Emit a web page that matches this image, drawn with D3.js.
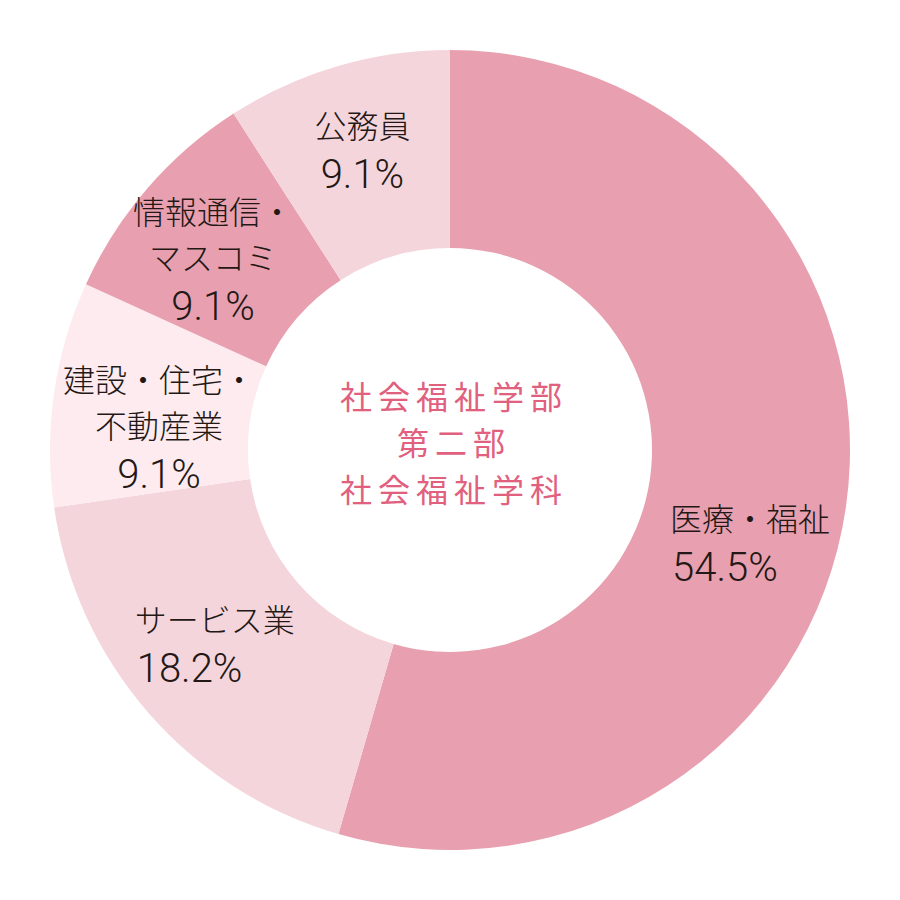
<!DOCTYPE html>
<html>
<head>
<meta charset="utf-8">
<script src="https://cdn.jsdelivr.net/npm/d3@7"></script>
<style>
  html, body { margin: 0; padding: 0; background: #fff; }
  svg text { font-family: "Noto Sans CJK JP", "Noto Sans", sans-serif; font-weight: 300; }
</style>
</head>
<body>
<script>
// data
var categories = ["医療・福祉", "サービス業", "建設・住宅・不動産業", "情報通信・マスコミ", "公務員"];
var labelLines = [["医療・福祉"], ["サービス業"], ["建設・住宅・", "不動産業"], ["情報通信・", "マスコミ"], ["公務員"]];
var values = [54.5, 18.2, 9.1, 9.1, 9.1];
var centerTitle = ["社会福祉学部", "第二部", "社会福祉学科"];

var colors = ["#e8a0b0", "#f5d5dc", "#fdebef", "#e8a0b0", "#f5d5dc"];

var width = 900, height = 900,
    cx = 450, cy = 450,
    outerR = 400, innerR = 202, labelR = 300;

var data = categories.map((c, i) => ({name: c, lines: labelLines[i], value: values[i]}));

var color = d3.scaleOrdinal().domain(categories).range(colors);

var pie = d3.pie().sort(null).value(d => d.value);
var arc = d3.arc().innerRadius(innerR).outerRadius(outerR);
var labelArc = d3.arc().innerRadius(labelR).outerRadius(labelR);

var svg = d3.select("body").append("svg")
    .attr("width", width)
    .attr("height", height)
  .append("g")
    .attr("transform", "translate(" + cx + "," + cy + ")");

var arcs = pie(data);

svg.selectAll("path")
    .data(arcs)
    .enter()
    .append("path")
    .attr("d", arc)
    .style("fill", d => color(d.data.name))
    .style("stroke", "none");

// label tweaks relative to the centroid (some labels are left aligned)
var labelOpts = [
  {anchor: "start", dx: -77, dy: 39},
  {anchor: "start", dx: -89, dy: -15},
  {anchor: "middle", dx: 6, dy: -16},
  {anchor: "middle", dx: -10, dy: -30},
  {anchor: "middle", dx: -3, dy: -24}
];

var lineH = 46, pctGap = 50;

arcs.forEach(function(d, i) {
  var c = labelArc.centroid(d);
  var o = labelOpts[i];
  var x = c[0] + o.dx, y0 = c[1] + o.dy;
  var g = svg.append("g").attr("class", "label");
  d.data.lines.forEach(function(line, j) {
    g.append("text")
      .attr("x", x)
      .attr("y", y0 + j * lineH)
      .attr("text-anchor", o.anchor)
      .style("fill", "#231815")
      .style("font-size", "32px")
      .text(line);
  });
  g.append("text")
    .attr("x", x + (o.anchor == "start" ? 2 : 0))
    .attr("y", y0 + (d.data.lines.length - 1) * lineH + pctGap)
    .attr("text-anchor", o.anchor)
    .style("fill", "#231815")
    .style("font-family", "Roboto, 'Liberation Sans', sans-serif")
    .style("font-weight", 300)
    .style("font-size", "40px")
    .text(d.data.value.toFixed(1) + "%");
});

// centre title
var ct = svg.append("text")
    .attr("text-anchor", "middle")
    .style("fill", "#e0607e")
    .style("font-size", "32px")
    .style("font-weight", 400)
    .style("letter-spacing", "6px");
centerTitle.forEach(function(line, j) {
  ct.append("tspan")
    .attr("x", 4)
    .attr("y", (j - 1) * 46.5 + 5)
    .text(line);
});
</script>
</body>
</html>
